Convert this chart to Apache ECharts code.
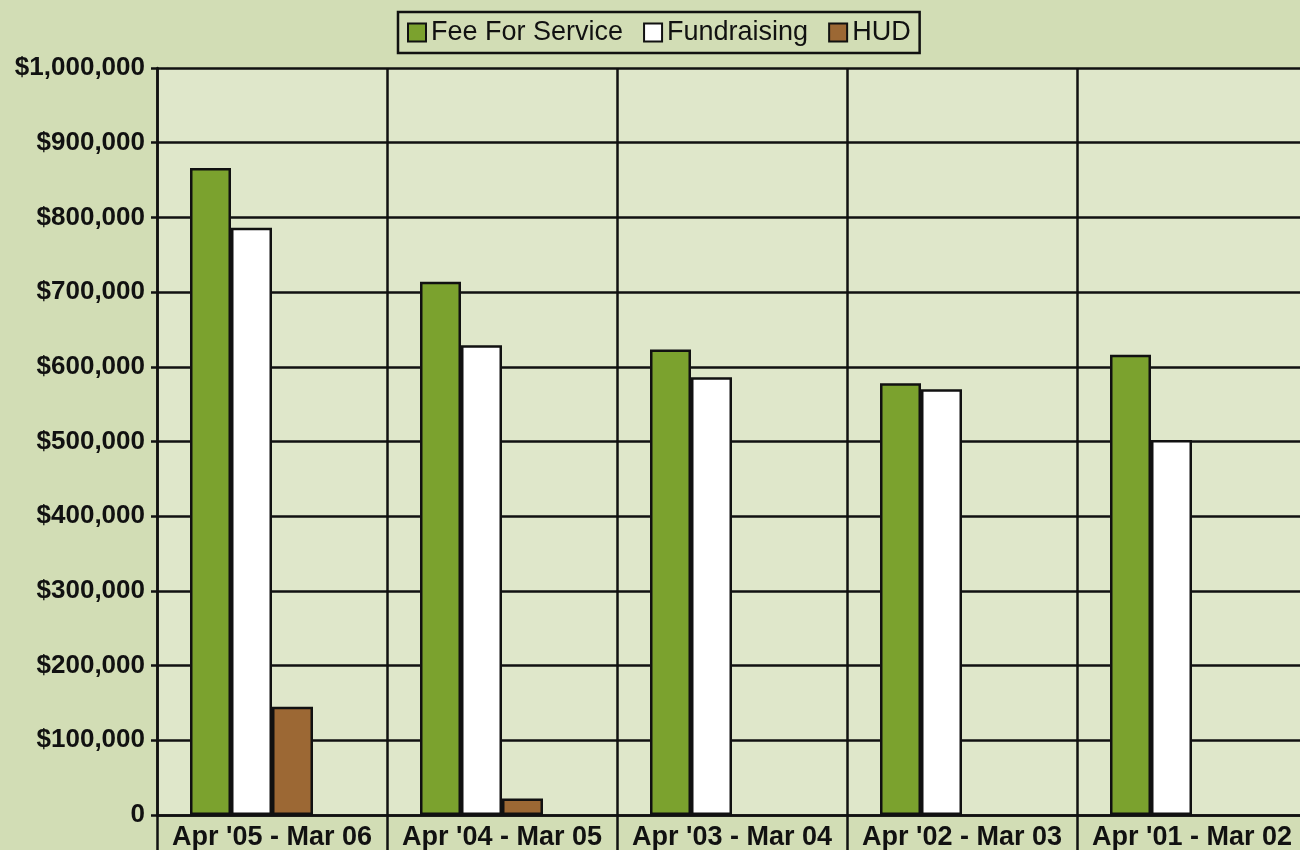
<!DOCTYPE html>
<html>
<head>
<meta charset="utf-8">
<script src="https://cdn.jsdelivr.net/npm/echarts@6/dist/echarts.min.js"></script>
<style>
  html, body { margin: 0; padding: 0; background: #d2ddb5; }
  #chart { width: 1300px; height: 850px; }
</style>
</head>
<body>
<div id="chart"></div>
<script>
const categories = ["Apr '05 - Mar 06", "Apr '04 - Mar 05", "Apr '03 - Mar 04", "Apr '02 - Mar 03", "Apr '01 - Mar 02"]
const feeForService = [866000, 714000, 623000, 578000, 616000]
const fundraising = [786000, 629000, 586000, 570000, 502000]
const hud = [145000, 22000, null, null, null]
// empty fourth slot, the original keeps room for it in every group
const spare = [null, null, null, null, null]

const ink = '#111'
const font = 'Liberation Sans'
const lineW = 2.5

const chart = echarts.init(document.getElementById('chart'))

function bar(name, data, color) {
  return {
    name: name,
    type: 'bar',
    data: data,
    barWidth: 41,
    barGap: '0%',
    itemStyle: { color: color, borderColor: ink, borderWidth: lineW },
    animation: false
  }
}

chart.setOption({
  backgroundColor: '#d2ddb5',
  legend: {
    data: ['Fee For Service', 'Fundraising', 'HUD'],
    left: 398,
    top: 12,
    padding: [7, 9],
    itemWidth: 18,
    itemHeight: 18,
    itemGap: 20,
    borderColor: ink,
    borderWidth: lineW,
    icon: 'rect',
    itemStyle: { borderColor: ink, borderWidth: 2 },
    textStyle: { fontFamily: font, fontSize: 27, color: ink }
  },
  grid: {
    left: 157,
    top: 68,
    right: -7,
    bottom: 35,
    show: true,
    backgroundColor: '#dfe7ca',
    borderWidth: 0,
    outerBoundsMode: 'none'
  },
  xAxis: {
    type: 'category',
    data: categories,
    axisLine: { lineStyle: { color: ink, width: lineW } },
    axisTick: { show: true, interval: 0, length: 36, lineStyle: { color: ink, width: lineW } },
    splitLine: { show: true, interval: 0, lineStyle: { color: ink, width: lineW } },
    axisLabel: { interval: 0, margin: 9, fontFamily: font, fontSize: 27, fontWeight: 'bold', color: ink }
  },
  yAxis: {
    type: 'value',
    min: 0,
    max: 1000000,
    interval: 100000,
    axisLine: { show: true, lineStyle: { color: ink, width: lineW } },
    axisTick: { show: true, length: 6, lineStyle: { color: ink, width: lineW } },
    splitLine: { show: true, lineStyle: { color: ink, width: lineW } },
    axisLabel: {
      margin: 12,
      fontFamily: font,
      fontSize: 26,
      fontWeight: 'bold',
      color: ink,
      formatter: v => v === 0 ? '0' : '$' + v.toLocaleString('en-US')
    }
  },
  series: [
    bar('Fee For Service', feeForService, '#7ba22e'),
    bar('Fundraising', fundraising, '#ffffff'),
    bar('HUD', hud, '#9c6834'),
    bar('', spare, 'transparent')
  ]
})
</script>
</body>
</html>
